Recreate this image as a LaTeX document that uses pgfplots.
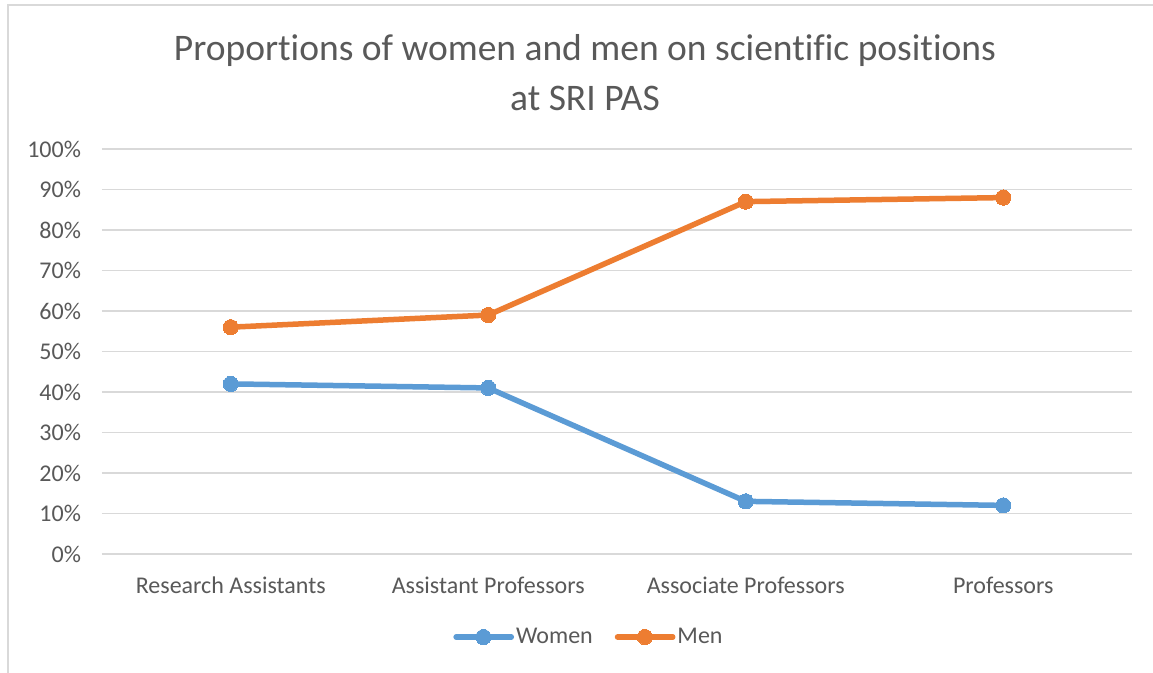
\documentclass[border=0pt]{standalone}
\usepackage{fontspec}
\setmainfont{Carlito}[Ligatures=NoCommon]
\usepackage{pgfplots}
\pgfplotsset{compat=1.18}
\definecolor{women}{HTML}{5B9BD5}
\definecolor{men}{HTML}{ED7D31}
\definecolor{gridc}{HTML}{D9D9D9}
\definecolor{txt}{HTML}{595959}
\begin{document}
\begin{tikzpicture}
\path[use as bounding box, fill=white] (0,0) rectangle (576.5pt,336.5pt);
\draw[gridc, line width=0.8pt] (4pt,0) -- (4pt,334pt) -- (576.5pt,334pt);
\node[txt, font=\fontsize{18.75}{22}\selectfont] at (292.5pt,311pt) {Proportions of women and men on scientific positions};
\node[txt, font=\fontsize{18.75}{22}\selectfont] at (292.5pt,287.5pt) {at SRI PAS};
\begin{axis}[
  at={(51pt,59.5pt)}, anchor=south west,
  scale only axis, width=515pt, height=202.5pt,
  xmin=0, xmax=4, ymin=0, ymax=100,
  xtick={0.5,1.5,2.5,3.5},
  xticklabels={Research Assistants, Assistant Professors, Associate Professors, Professors},
  ytick={0,10,...,100},
  yticklabel={\pgfmathprintnumber{\tick}\%},
  /pgf/number format/assume math mode=true,
  axis line style={draw=none},
  major tick length=0pt,
  ymajorgrids, grid style={gridc, line width=0.8pt},
  tick label style={txt, font=\fontsize{12}{14}\selectfont},
  yticklabel style={xshift=-7pt},
  xticklabel style={yshift=-8pt},
  clip=false,
  legend columns=2,
  legend style={at={(0.4728,-0.205)}, anchor=center, draw=none, fill=none,
    font=\fontsize{12}{14}\selectfont, text=txt,
    nodes={inner sep=1pt},
    /tikz/every even column/.append style={column sep=10pt}},
  legend image code/.code={\draw[#1,mark repeat=2,mark phase=2] plot coordinates {(0cm,0cm) (0.48cm,0cm) (0.97cm,0cm)};},
]
\addplot[women, line width=2.75pt, line cap=round, mark=*, mark size=3.8pt, mark options={solid, line width=0pt, fill=women}] coordinates {(0.5,42) (1.5,41) (2.5,13) (3.5,12)};
\addlegendentry{Women}
\addplot[men, line width=2.75pt, line cap=round, mark=*, mark size=3.8pt, mark options={solid, line width=0pt, fill=men}] coordinates {(0.5,56) (1.5,59) (2.5,87) (3.5,88)};
\addlegendentry{Men}
\end{axis}
\end{tikzpicture}
\end{document}
